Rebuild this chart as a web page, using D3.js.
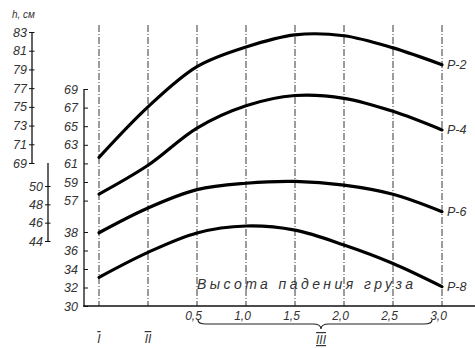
<!DOCTYPE html>
<html>
<head>
<meta charset="utf-8">
<script src="https://cdn.jsdelivr.net/npm/d3@7"></script>
<style>
  body { margin: 0; background: #fff; }
  svg { display: block; }
  text { font-family: "Liberation Sans", sans-serif; font-style: italic; fill: #333; }
</style>
</head>
<body>
<svg id="chart" width="475" height="348"></svg>
<script>
// x positions: regimes I, II and drop heights (III)
const positions = ["I", "II", "0,5", "1,0", "1,5", "2,0", "2,5", "3,0"];
const heightLabels = ["0,5", "1,0", "1,5", "2,0", "2,5", "3,0"];

// h, cm for each pressure series
const p2 = [69.6, 75.0, 79.3, 81.4, 82.7, 82.6, 81.3, 79.5];
const p4 = [57.7, 60.8, 64.8, 67.2, 68.3, 68.0, 66.6, 64.6];
const p6 = [44.9, 47.6, 49.6, 50.3, 50.5, 50.1, 49.1, 47.2];
const p8 = [33.1, 35.8, 37.9, 38.65, 38.2, 36.6, 34.6, 32.1];
const seriesNames = ["Р-2", "Р-4", "Р-6", "Р-8"];

const ticksA = [69, 71, 73, 75, 77, 79, 81, 83];
const ticksB = [57, 59, 61, 63, 65, 67, 69];
const ticksC = [44, 46, 48, 50];
const ticksD = [30, 32, 34, 36, 38];

const svg = d3.select("#chart");

const x = d3.scalePoint().domain(positions).range([99, 442]);
const yA = d3.scaleLinear().domain([69, 83]).range([163, 32]);
const yB = d3.scaleLinear().domain([57, 69]).range([200.6, 89]);
const yC = d3.scaleLinear().domain([44, 50]).range([241, 186]);
const yD = d3.scaleLinear().domain([30, 38]).range([306, 232]);

const baseY = yD(30);

// grid lines
svg.append("g")
  .selectAll("line")
  .data(positions)
  .join("line")
  .attr("x1", d => x(d)).attr("x2", d => x(d))
  .attr("y1", 25).attr("y2", baseY)
  .attr("stroke", "#222")
  .attr("stroke-width", 0.9)
  .attr("stroke-dasharray", "7,2,1,2");

// x axis
svg.append("line")
  .attr("x1", 83).attr("x2", 475)
  .attr("y1", baseY).attr("y2", baseY)
  .attr("stroke", "#111").attr("stroke-width", 1.6);

svg.append("g")
  .attr("transform", `translate(-4,${baseY})`)
  .call(d3.axisBottom(x).tickValues(heightLabels).tickSize(0).tickPadding(5))
  .call(g => g.select(".domain").remove())
  .selectAll("text")
  .style("font-size", "12px")
  .style("font-family", "\"Liberation Sans\", sans-serif");

// y axes
function yAxis(scale, ticks, xPos, inner, pad, cross) {
  const g = svg.append("g")
    .attr("transform", `translate(${xPos},0)`)
    .call(d3.axisLeft(scale).tickValues(ticks).tickFormat(d3.format("d"))
      .tickSizeInner(inner).tickSizeOuter(0).tickPadding(pad));
  g.select(".domain").remove();
  g.selectAll("line").attr("stroke", "#111");
  if (cross) g.selectAll(".tick line").attr("x1", 2.5);
  g.selectAll("text")
    .style("font-size", "12.5px")
    .style("font-family", "\"Liberation Sans\", sans-serif");
  return g;
}
yAxis(yA, ticksA, 32, 3, 2, true);
yAxis(yC, ticksC, 48, 3, 2, true);
yAxis(yB, ticksB, 84, -4, 6, false);
yAxis(yD, ticksD, 84, -4, 6, false);

const axisStroke = (x0, y0, y1) => svg.append("line")
  .attr("x1", x0).attr("x2", x0).attr("y1", y0).attr("y2", y1)
  .attr("stroke", "#111").attr("stroke-width", 1.3);
axisStroke(32, yA(83), yA(69));
axisStroke(48, yA(69), yC(44));
axisStroke(84, yB(69), baseY);

svg.append("text")
  .attr("x", 12).attr("y", 18)
  .style("font-size", "10px")
  .text("h, см");

// curves
const series = [
  { name: seriesNames[0], values: p2, y: yA },
  { name: seriesNames[1], values: p4, y: yB },
  { name: seriesNames[2], values: p6, y: yC },
  { name: seriesNames[3], values: p8, y: yD }
];

series.forEach(s => {
  const line = d3.line()
    .x((d, i) => x(positions[i]))
    .y(d => s.y(d))
    .curve(d3.curveCatmullRom.alpha(0.5));
  svg.append("path")
    .attr("d", line(s.values))
    .attr("fill", "none")
    .attr("stroke", "#000")
    .attr("stroke-width", 3.2)
    .attr("stroke-linecap", "round");
  svg.append("text")
    .attr("x", x("3,0") + 5)
    .attr("y", s.y(s.values[s.values.length - 1]) + 4)
    .style("font-size", "12.5px")
    .text(s.name);
});

// x title
svg.append("text")
  .attr("x", 197).attr("y", 289)
  .attr("textLength", 216)
  .attr("lengthAdjust", "spacing")
  .style("font-size", "14px")
  .text("Высота падения груза");

// brace under drop heights
const bx0 = x("0,5") + 1, bx1 = x("3,0") - 10, bm = 321;
const by0 = 320, by1 = 324, by2 = 329;
svg.append("path")
  .attr("d", `M${bx0},${by0} Q${bx0},${by1} ${bx0 + 8},${by1} L${bm - 8},${by1} Q${bm},${by1} ${bm},${by2} Q${bm},${by1} ${bm + 8},${by1} L${bx1 - 8},${by1} Q${bx1},${by1} ${bx1},${by0}`)
  .attr("fill", "none")
  .attr("stroke", "#222")
  .attr("stroke-width", 1.2);

// regime labels
svg.append("text").attr("x", x("I")).attr("y", 343)
  .attr("text-anchor", "middle").style("font-size", "12px")
  .style("text-decoration", "overline").text("I");
svg.append("text").attr("x", x("II")).attr("y", 343)
  .attr("text-anchor", "middle").style("font-size", "12px")
  .style("text-decoration", "overline").text("II");
svg.append("text").attr("x", bm).attr("y", 344)
  .attr("text-anchor", "middle").style("font-size", "12px")
  .style("text-decoration", "overline underline").text("III");
</script>
</body>
</html>
